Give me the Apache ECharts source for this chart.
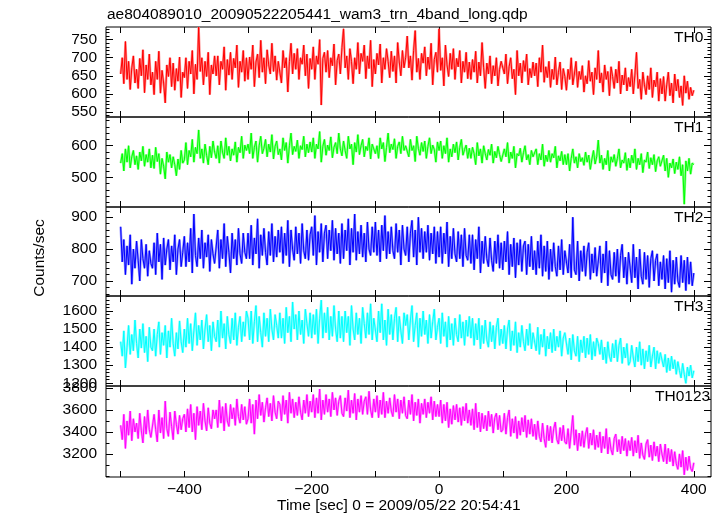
<!DOCTYPE html>
<html><head><meta charset="utf-8">
<script src="https://cdn.jsdelivr.net/npm/echarts@6/dist/echarts.min.js"></script>
<style>html,body{margin:0;padding:0;background:#fff}#c{width:724px;height:516px}</style>
</head><body><div id="c"></div>
<script>
// time bins (sec)
const tStart = -500, tStep = 2.5;
const panelNames = ['TH0', 'TH1', 'TH2', 'TH3', 'TH0123'];
const xTickValues = [-500, -400, -300, -200, -100, 0, 100, 200, 300, 400];
const xLabelValues = [-400, -200, 0, 200, 400];
const yLabelValues = [[550, 600, 650, 700, 750], [500, 600], [700, 800, 900], [1200, 1300, 1400, 1500, 1600], [3200, 3400, 3600, 3800]];
const yMinorSteps = [10, 20, 20, 20, 100];
const yRangeMin = [536, 406, 653, 1185, 2990];
const yRangeMax = [785, 691, 932, 1683, 3818];

const th0 = [
655,700,628,745,640,690,612,672,705,630,668,615,698,650,722,603,680,640,710,625,
660,598,690,640,718,602,665,630,575,680,648,700,620,685,610,670,635,702,590,660,
645,700,615,690,655,720,600,682,640,785,662,700,625,690,648,715,598,680,655,705,
650,705,625,690,668,730,610,695,652,715,640,698,672,735,618,690,660,720,635,700,
640,702,668,735,620,688,710,645,748,660,700,628,722,680,655,740,662,705,638,690,
695,630,720,672,700,605,690,740,655,712,668,725,640,700,682,735,650,710,615,698,
668,730,640,705,682,750,569,698,715,660,720,645,700,678,738,625,692,710,655,728,
780,672,705,640,725,690,628,700,668,742,655,712,690,735,642,705,670,748,620,695,
655,712,680,738,630,700,668,725,690,645,718,662,705,630,742,688,650,720,672,700,
760,672,705,638,720,775,660,698,640,712,685,730,650,702,668,740,625,695,715,660,
780,665,700,622,735,680,648,712,668,725,640,698,675,720,630,690,660,715,642,688,
640,695,660,718,630,688,650,742,672,615,685,655,705,628,678,650,700,622,668,690,
690,655,710,628,675,700,642,668,598,720,650,685,630,692,662,710,625,670,645,688,
650,685,620,700,660,735,632,675,645,690,618,668,640,702,625,660,688,612,670,648,
610,668,640,700,625,655,690,618,662,640,678,605,650,628,692,635,660,598,672,640,
720,630,658,605,680,640,662,595,675,648,615,668,630,690,600,652,625,672,608,645,
620,668,600,652,715,615,640,585,660,625,598,650,612,672,590,638,620,660,580,642,
600,648,580,625,660,595,630,575,655,608,640,590,622,568,650,602,635,585,618,595,
610];
const th1 = [
545,575,520,590,548,600,530,565,585,540,568,525,580,552,598,535,572,548,590,530,
570,528,595,550,575,510,560,535,495,580,548,572,530,565,540,505,558,525,585,545,
555,610,540,585,565,620,548,595,575,650,560,590,545,605,570,540,598,562,615,580,
560,600,545,615,580,560,625,570,598,552,590,570,612,548,595,578,630,560,602,585,
605,575,640,560,595,615,548,600,630,575,592,620,565,605,580,635,558,598,615,572,
590,555,625,585,610,545,600,640,572,598,582,618,560,600,588,630,565,605,578,612,
580,625,560,605,590,645,548,598,620,570,602,585,628,562,595,610,575,640,590,568,
615,585,560,630,590,605,540,610,580,635,572,600,620,565,598,585,625,558,605,590,
575,600,560,625,590,610,550,595,640,578,605,588,622,560,598,612,575,630,585,600,
605,565,620,585,600,550,630,592,570,610,582,615,560,598,625,575,602,588,548,612,
585,615,560,600,575,625,548,590,565,605,578,612,555,595,620,570,588,602,560,592,
560,595,575,540,610,568,590,545,600,575,555,588,570,605,545,582,562,598,572,550,
555,590,565,610,545,580,560,598,530,575,568,592,548,578,600,555,572,540,585,565,
560,590,540,575,555,605,535,570,550,585,548,575,562,598,530,568,552,582,540,572,
540,575,520,560,590,545,565,530,575,550,562,538,580,548,570,525,558,585,542,565,
618,545,570,525,560,540,585,520,565,548,572,535,560,590,530,555,545,578,522,560,
530,570,545,590,525,560,540,575,515,555,548,580,528,562,540,572,518,552,565,535,
540,570,520,560,500,545,530,558,512,548,525,565,505,540,415,552,520,560,510,545,
540];
const th2 = [
870,760,830,720,810,750,845,690,800,740,825,765,700,830,770,740,815,715,795,755,
740,820,720,850,760,815,705,835,750,800,830,735,810,760,845,720,800,830,745,790,
840,745,820,760,865,725,910,780,745,835,770,860,740,820,775,845,730,830,785,755,
760,860,740,830,770,880,745,840,790,725,850,770,830,750,865,785,755,850,790,770,
850,770,875,750,835,785,895,740,845,780,865,790,750,855,780,880,760,840,775,860,
790,870,755,850,780,890,745,860,800,765,870,785,850,755,880,795,770,860,765,845,
870,780,905,750,855,790,880,760,850,875,770,860,795,890,765,865,785,850,755,880,
770,860,795,895,750,865,790,910,765,855,785,875,775,850,760,885,800,780,870,790,
885,780,860,760,875,795,905,770,855,785,870,795,770,880,790,860,750,875,800,780,
870,760,850,890,775,860,750,900,790,865,770,855,790,875,765,850,785,870,755,855,
775,870,755,850,785,885,745,840,770,865,785,760,855,770,845,745,865,780,765,845,
755,845,735,830,770,870,725,825,755,840,770,745,835,765,730,825,755,845,740,820,
735,825,760,855,720,815,745,835,710,820,750,830,730,810,825,720,815,745,840,735,
795,720,825,740,845,715,810,730,825,705,800,730,820,745,715,810,735,830,720,795,
800,725,815,710,900,735,720,825,700,795,730,810,715,790,820,705,785,725,805,715,
715,810,695,785,725,825,685,795,720,705,790,715,800,695,780,815,710,775,690,790,
785,695,815,710,775,675,800,715,690,790,705,780,680,770,795,700,765,785,685,760,
705,780,675,770,695,795,665,765,690,775,700,680,780,695,765,670,775,690,760,685,
725];
const th3 = [
1430,1350,1490,1285,1400,1520,1360,1470,1380,1550,1420,1340,1500,1395,1530,1370,1460,1320,1510,1400,
1380,1500,1350,1470,1540,1360,1480,1410,1520,1340,1490,1400,1560,1420,1350,1480,1390,1545,1430,1370,
1500,1400,1560,1420,1530,1380,1490,1590,1410,1520,1440,1550,1390,1500,1580,1430,1520,1380,1540,1460,
1430,1550,1400,1600,1450,1530,1390,1570,1470,1420,1560,1440,1590,1410,1510,1570,1430,1540,1460,1600,
1560,1440,1600,1420,1540,1630,1430,1570,1480,1400,1590,1460,1560,1430,1610,1500,1440,1580,1520,1450,
1590,1450,1560,1420,1620,1480,1570,1430,1650,1500,1580,1440,1600,1470,1550,1420,1610,1530,1460,1590,
1450,1580,1470,1610,1420,1560,1660,1450,1590,1480,1620,1440,1570,1460,1630,1500,1430,1600,1450,1570,
1430,1600,1480,1570,1410,1630,1500,1440,1590,1470,1560,1420,1620,1530,1450,1590,1470,1640,1440,1560,
1570,1430,1600,1480,1640,1440,1550,1410,1610,1470,1580,1440,1560,1620,1430,1570,1490,1420,1590,1520,
1580,1440,1550,1630,1430,1520,1590,1400,1560,1460,1600,1470,1550,1420,1580,1450,1540,1610,1440,1510,
1560,1420,1590,1460,1540,1400,1570,1440,1530,1410,1560,1470,1430,1580,1450,1540,1410,1550,1460,1570,
1450,1560,1410,1530,1440,1560,1390,1520,1420,1550,1440,1400,1540,1430,1520,1390,1510,1560,1410,1500,
1420,1520,1390,1500,1550,1380,1490,1410,1540,1370,1480,1400,1520,1430,1380,1500,1410,1530,1390,1480,
1490,1380,1510,1360,1470,1400,1500,1350,1460,1390,1480,1370,1500,1380,1460,1400,1490,1350,1450,1480,
1480,1360,1450,1330,1470,1380,1350,1460,1320,1440,1370,1460,1340,1450,1360,1470,1330,1430,1350,1450,
1420,1360,1440,1330,1400,1310,1430,1350,1320,1420,1340,1440,1320,1410,1450,1310,1400,1340,1420,1300,
1320,1410,1340,1290,1400,1320,1430,1300,1390,1280,1380,1320,1410,1290,1350,1400,1280,1380,1310,1370,
1380,1290,1360,1260,1340,1270,1350,1280,1330,1250,1320,1270,1230,1310,1250,1200,1290,1240,1300,1230,
1270];
const th0123 = [
3460,3330,3560,3250,3500,3370,3590,3320,3520,3400,3480,3340,3570,3410,3300,3540,3380,3600,3420,3350,
3360,3560,3420,3310,3600,3390,3530,3340,3680,3430,3360,3580,3450,3330,3590,3470,3380,3550,3420,3520,
3560,3400,3610,3440,3650,3400,3570,3330,3630,3460,3590,3420,3660,3500,3410,3620,3480,3430,3600,3520,
3600,3440,3690,3480,3630,3410,3660,3500,3450,3650,3520,3620,3460,3700,3540,3480,3650,3510,3630,3470,
3520,3700,3480,3650,3380,3690,3520,3740,3550,3670,3490,3620,3710,3540,3660,3500,3730,3580,3520,3680,
3650,3500,3730,3560,3690,3480,3760,3570,3700,3530,3670,3550,3720,3580,3510,3690,3570,3740,3540,3680,
3580,3740,3530,3710,3570,3790,3510,3690,3560,3740,3580,3700,3540,3760,3600,3710,3550,3680,3730,3570,
3540,3710,3590,3780,3530,3690,3570,3750,3510,3700,3580,3730,3560,3680,3720,3560,3770,3600,3530,3700,
3580,3730,3530,3690,3560,3760,3530,3680,3570,3710,3590,3540,3740,3580,3700,3520,3690,3570,3720,3550,
3520,3690,3560,3740,3500,3670,3550,3700,3480,3660,3560,3700,3530,3670,3570,3720,3510,3680,3540,3650,
3540,3690,3480,3650,3500,3670,3440,3610,3470,3640,3510,3650,3490,3620,3460,3630,3500,3660,3480,3600,
3460,3610,3420,3660,3440,3580,3400,3570,3430,3550,3410,3590,3450,3560,3390,3530,3570,3420,3550,3400,
3420,3570,3380,3530,3600,3360,3520,3390,3540,3340,3500,3370,3530,3400,3550,3350,3510,3380,3520,3360,
3470,3330,3500,3360,3310,3480,3340,3260,3460,3320,3450,3300,3430,3490,3330,3290,3440,3320,3460,3310,
3290,3430,3250,3400,3550,3280,3420,3230,3390,3270,3410,3260,3380,3440,3250,3390,3280,3420,3240,3370,
3260,3400,3210,3360,3250,3430,3200,3350,3240,3190,3340,3380,3220,3330,3200,3360,3230,3340,3180,3320,
3230,3350,3180,3320,3210,3370,3160,3300,3190,3150,3290,3330,3170,3280,3140,3310,3180,3270,3130,3290,
3200,3130,3290,3110,3250,3130,3240,3090,3220,3110,3060,3200,3080,3230,3010,3170,3050,3180,3070,3040,
3120];

const seriesValues = [th0, th1, th2, th3, th0123];
const coreColors = ['#ff0000', '#00ff00', '#0000ff', '#00ffff', '#ff00ff'];
const haloColors = ['#ff9090', '#90ff90', '#9090ff', '#90ffff', '#ff90ff'];

const gridTops = [27, 117, 207, 296, 386];
const gridHeights = [90, 90, 89, 90, 91];
const xMin = -523, xMax = 427;
const FONT = '"Liberation Sans", Arial, Helvetica, sans-serif';
const FS = 15.5;
const minus = v => (v < 0 ? '\u2212' + Math.abs(v) : String(v));

const chart = echarts.init(document.getElementById('c'), null, {renderer: 'canvas'});
const grid = [], xAxis = [], yAxis = [], series = [], graphic = [];

panelNames.forEach((name, i) => {
  grid.push({left: 106, width: 605, top: gridTops[i], height: gridHeights[i],
    show: true, borderColor: '#000', borderWidth: 1, backgroundColor: 'rgba(0,0,0,0)'});
  const xc = {type: 'value', gridIndex: i, min: xMin, max: xMax,
    axisLine: {show: false, onZero: false}, splitLine: {show: false}};
  xAxis.push(Object.assign({}, xc, {position: 'bottom',
    axisTick: {show: true, inside: true, length: 6, customValues: xTickValues, lineStyle: {color: '#000', width: 1}},
    axisLabel: {show: i === 4, customValues: xLabelValues, formatter: minus, margin: 5,
      color: '#000', fontSize: FS, fontFamily: FONT}}));
  xAxis.push(Object.assign({}, xc, {position: 'top',
    axisTick: {show: true, inside: true, length: 6, customValues: xTickValues, lineStyle: {color: '#000', width: 1}},
    axisLabel: {show: false}}));

  const minorVals = [];
  for (let v = Math.ceil(yRangeMin[i] / yMinorSteps[i]) * yMinorSteps[i]; v <= yRangeMax[i]; v += yMinorSteps[i]) minorVals.push(v);
  const yc = {type: 'value', gridIndex: i, min: yRangeMin[i], max: yRangeMax[i],
    axisLine: {show: false, onZero: false}, splitLine: {show: false}};
  const base = yAxis.length;
  yAxis.push(Object.assign({}, yc, {position: 'left',
    axisTick: {show: true, inside: true, length: 7, customValues: yLabelValues[i], lineStyle: {color: '#000'}},
    axisLabel: {show: true, customValues: yLabelValues[i], formatter: v => String(v), margin: 9,
      color: '#000', fontSize: FS, fontFamily: FONT}}));
  yAxis.push(Object.assign({}, yc, {position: 'left',
    axisTick: {show: true, inside: true, length: 3.5, customValues: minorVals, lineStyle: {color: '#000'}},
    axisLabel: {show: false}}));
  yAxis.push(Object.assign({}, yc, {position: 'right',
    axisTick: {show: true, inside: true, length: 7, customValues: yLabelValues[i], lineStyle: {color: '#000'}},
    axisLabel: {show: false}}));
  yAxis.push(Object.assign({}, yc, {position: 'right',
    axisTick: {show: true, inside: true, length: 3.5, customValues: minorVals, lineStyle: {color: '#000'}},
    axisLabel: {show: false}}));

  const pts = seriesValues[i].map((v, k) => [tStart + k * tStep, v]);
  series.push({type: 'line', xAxisIndex: 2 * i, yAxisIndex: base, data: pts, showSymbol: false,
    silent: true, lineStyle: {color: haloColors[i], width: 2.4}, z: 2});
  series.push({type: 'line', xAxisIndex: 2 * i, yAxisIndex: base, data: pts, showSymbol: false,
    silent: true, lineStyle: {color: coreColors[i], width: 1}, z: 3});

  graphic.push({type: 'text', x: name === 'TH0123' ? 655 : 674, y: gridTops[i] + 11, z: 10,
    style: {text: name, font: FS + 'px ' + FONT, fill: '#000', align: 'left', verticalAlign: 'middle'}});
});

graphic.push({type: 'text', x: 107, y: 15, style: {text: 'ae804089010_20090522205441_wam3_trn_4band_long.qdp',
  font: FS + 'px ' + FONT, fill: '#000', align: 'left', verticalAlign: 'middle'}});
graphic.push({type: 'text', x: 40, y: 258, rotation: Math.PI / 2, style: {text: 'Counts/sec',
  font: FS + 'px ' + FONT, fill: '#000', align: 'center', verticalAlign: 'middle'}});
graphic.push({type: 'text', x: 277, y: 506, style: {text: 'Time [sec] 0 = 2009/05/22 20:54:41',
  font: FS + 'px ' + FONT, fill: '#000', align: 'left', verticalAlign: 'middle'}});

chart.setOption({animation: false, backgroundColor: '#fff', grid, xAxis, yAxis, series, graphic});
</script></body></html>
